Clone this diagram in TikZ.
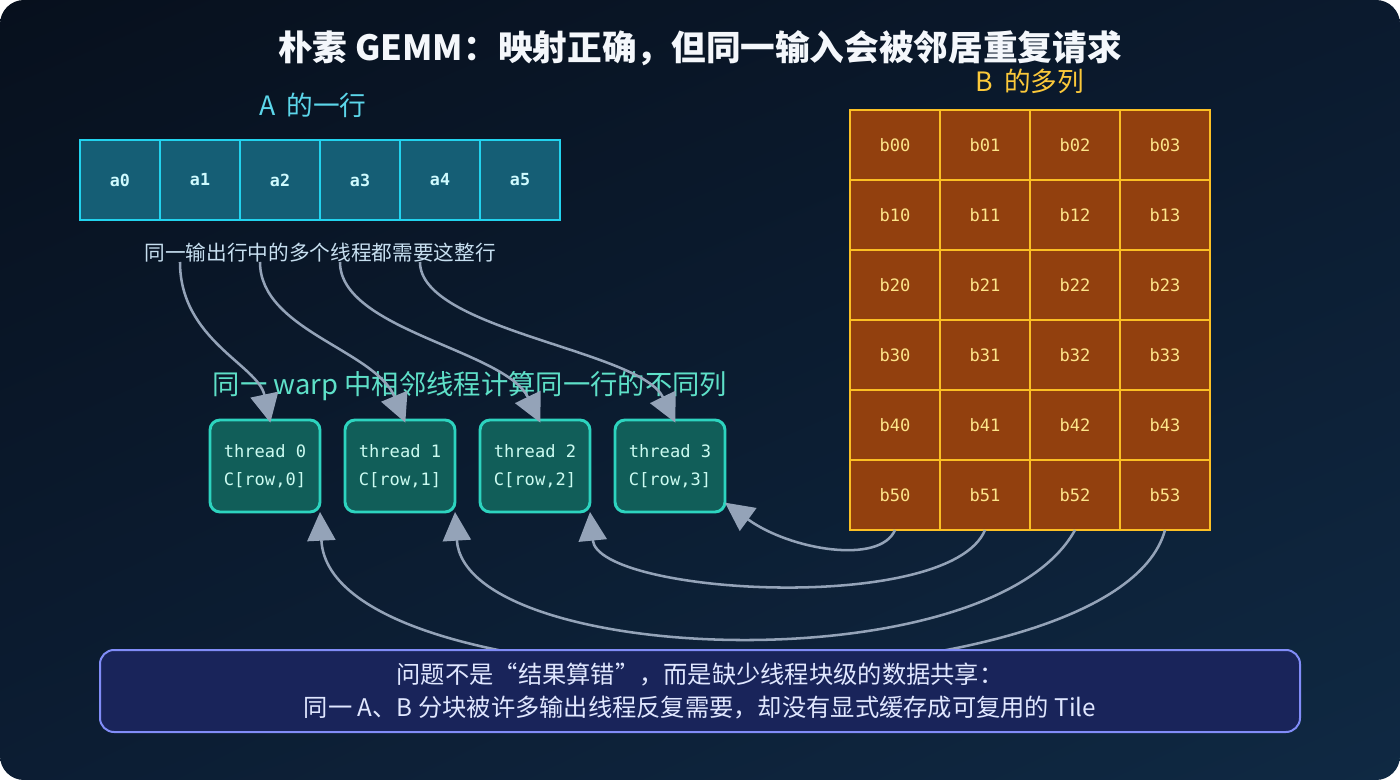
\documentclass[tikz,border=0pt]{standalone}
\usepackage{fontspec}
\setmainfont{Noto Sans CJK SC}
\newfontfamily\monofont{DejaVu Sans Mono}
\usetikzlibrary{arrows.meta,shadings}
\definecolor{bgA}{HTML}{07101D}
\definecolor{bgB}{HTML}{0B1A2E}
\definecolor{bgC}{HTML}{0C1D33}
\definecolor{bgD}{HTML}{0F2943}
\definecolor{titlec}{HTML}{F4F7FB}
\definecolor{alabel}{HTML}{5CD6EA}
\definecolor{blabel}{HTML}{FCC93A}
\definecolor{capc}{HTML}{C7DFF0}
\definecolor{warpc}{HTML}{5EE0C8}
\definecolor{afill}{HTML}{155E75}
\definecolor{aline}{HTML}{22D3EE}
\definecolor{atext}{HTML}{CFFAFE}
\definecolor{bfill}{HTML}{92400E}
\definecolor{bline}{HTML}{FBBF24}
\definecolor{btext}{HTML}{FDE68A}
\definecolor{tfill}{HTML}{115E59}
\definecolor{tline}{HTML}{2DD4BF}
\definecolor{ttext}{HTML}{CCFBF1}
\definecolor{arrc}{HTML}{94A3B8}
\definecolor{nfill}{HTML}{19245A}
\definecolor{nline}{HTML}{818CF8}
\definecolor{ntext}{HTML}{E0E7FF}
\tikzset{
  acell/.style={draw=aline, fill=afill, line width=1.5pt, minimum width=60pt, minimum height=60pt, inner sep=0pt, outer sep=0pt, text=atext, font=\monofont\bfseries\fontsize{12.5pt}{14pt}\selectfont},
  bcell/.style={draw=bline, fill=bfill, line width=1.5pt, minimum width=67.5pt, minimum height=52.5pt, inner sep=0pt, outer sep=0pt, text=btext, font=\monofont\fontsize{12.8pt}{14pt}\selectfont},
  thr/.style={draw=tline, fill=tfill, line width=2.2pt, rounded corners=7.5pt, minimum width=82.5pt, minimum height=69pt, inner sep=0pt, outer sep=0pt, text=ttext, align=center, font=\monofont\fontsize{12.8pt}{21pt}\selectfont},
  arr/.style={draw=arrc, line width=1.9pt, -{Triangle[length=21.5pt,width=21pt]}},
  note/.style={draw=nline, fill=nfill, line width=1.5pt, rounded corners=10.5pt, minimum width=900pt, minimum height=61.5pt, inner sep=0pt, text=ntext, align=center, font=\fontsize{18.2pt}{24.75pt}\selectfont}
}
\begin{document}
\begin{tikzpicture}[x=0.75pt,y=-0.75pt]
\useasboundingbox (0,0) rectangle (1400,780);
\fill[white] (0,0) rectangle (1400,780);
\shade[upper left=bgA, upper right=bgB, lower left=bgC, lower right=bgD, rounded corners=18pt] (0,0) rectangle (1400,780);

% title
\node[text=titlec, font=\bfseries\fontsize{26pt}{30pt}\selectfont] (title) at (700,48) {朴素 GEMM：映射正确，但同一输入会被邻居重复请求};

% labels
\node[text=alabel, font=\fontsize{20pt}{24pt}\selectfont] (alab) at (313,105) {A\hspace{0.4em}的一行};
\node[text=blabel, font=\fontsize{20pt}{24pt}\selectfont] (blab) at (1030,81) {B\hspace{0.4em}的多列};

% A row
\foreach \i in {0,...,5} {
  \node[acell] (a\i) at (120+80*\i,180) {a\i};
}
\node[text=capc, font=\fontsize{15.5pt}{18pt}\selectfont] (cap) at (320,253) {同一输出行中的多个线程都需要这整行};

% B grid
\foreach \r in {0,...,5} {
  \foreach \c in {0,...,3} {
    \node[bcell] (b\r\c) at (895+90*\c,145+70*\r) {b\r\c};
  }
}

% warp label
\node[text=warpc, font=\fontsize{20.5pt}{26pt}\selectfont] (warp) at (470,386) {同一 warp 中相邻线程计算同一行的不同列};

% threads
\foreach \i in {0,...,3} {
  \node[thr] (t\i) at (265+135*\i,466) {thread \i\\C[row,\i]};
}

% start coordinates on caption
\coordinate (s0) at (180,262);
\coordinate (s1) at (260,262);
\coordinate (s2) at (340,262);
\coordinate (s3) at (420,262);

% top arrows
\draw[arr] (s0) .. controls (180,340) and (258,365) .. ([xshift=4pt,yshift=-2pt]t0.north);
\draw[arr] (s1) .. controls (260,330) and (375,350) .. ([xshift=4pt,yshift=-2pt]t1.north);
\draw[arr] (s2) .. controls (340,330) and (505,350) .. ([xshift=4pt,yshift=-2pt]t2.north);
\draw[arr] (s3) .. controls (420,330) and (640,350) .. ([xshift=4pt,yshift=-2pt]t3.north);

% bottom arrows
\draw[arr] (b50.south) .. controls (880,565) and (790,550) .. ([yshift=7pt]t3.south east);
\draw[arr] (b51.south) .. controls (950,615) and (598,595) .. (t2.south east);
\draw[arr] (b52.south) .. controls (990,685) and (465,665) .. (t1.south east);
\draw[arr] (b53.south) .. controls (1115,715) and (330,715) .. (t0.south east);

% note
\node[note] (note) at (700,691) {问题不是“结果算错”，而是缺少线程块级的数据共享：\\同一 A、B 分块被许多输出线程反复需要，却没有显式缓存成可复用的 Tile};
\end{tikzpicture}
\end{document}
